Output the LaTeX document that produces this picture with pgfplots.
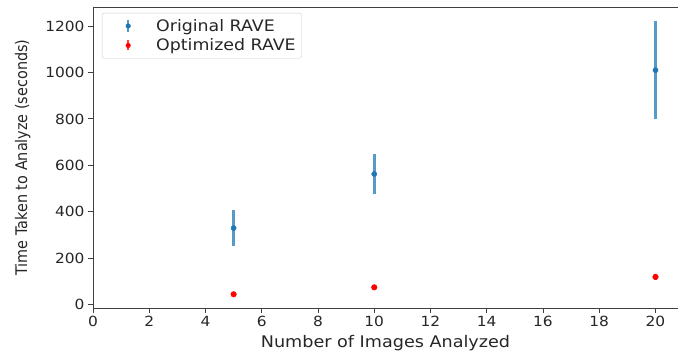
\documentclass[border=0pt]{standalone}
\usepackage{pgfplots}
\pgfplotsset{compat=1.18}
\usepackage{fontspec}
\setmainfont{DejaVu Sans}[FakeStretch=1.1]
\newfontfamily\labelfont{DejaVu Sans}[FakeStretch=0.9]
\definecolor{tabblue}{HTML}{1F77B4}
\definecolor{txt}{HTML}{262626}
\begin{document}
\begin{tikzpicture}
\begin{axis}[name=ax, scale only axis, width=585pt, height=301pt,
  xmin=0, xmax=20.8, ymin=-14, ymax=1282,
  xtick={0,2,...,20}, ytick={0,200,...,1200},
  tick align=outside, tick pos=left, major tick length=5pt,
  axis line style={black!75, line width=0.9pt},
  every tick/.style={black!75, line width=0.9pt},
  /pgf/number format/assume math mode=true,
  /pgf/number format/1000 sep={},
  ticklabel style={font=\fontsize{14}{16}\selectfont, text=txt},
  xlabel={Number of Images Analyzed},
  ylabel={\labelfont Time Taken to Analyze (seconds)},
  label style={font=\fontsize{16}{18}\selectfont, text=txt},
  xlabel style={yshift=-1pt},
  ylabel style={yshift=8pt},
  legend style={at={(0,1)}, anchor=north west, xshift=9pt, yshift=-6pt,
    draw=black!20, rounded corners=2pt, font=\fontsize{15.8}{18}\selectfont, text=txt,
    inner xsep=4pt, inner ysep=4pt, row sep=2pt},
  legend cell align=left,
]
\addplot[only marks, mark=*, mark size=2.6pt, color=tabblue,
  legend image code/.code={\path[draw=none,fill=none] (0pt,0pt) -- (48pt,0pt); \draw[line width=2.5pt, tabblue, opacity=.75] (22pt,-6pt) -- (22pt,6pt); \fill[tabblue] (22pt,0pt) circle[radius=2.3pt];},
  error bars/.cd, y dir=both, y explicit,
  error bar style={line width=3pt, tabblue, opacity=0.75}, error mark=none]
  coordinates {(5,330) +- (0,77) (10,563) +- (0,87) (20,1010) +- (0,212)};
\addlegendentry{Original RAVE}
\addplot[only marks, mark=*, mark size=2.8pt, color=red,
  legend image code/.code={\path[draw=none,fill=none] (0pt,0pt) -- (48pt,0pt); \draw[line width=2.5pt, red, opacity=.75] (22pt,-5pt) -- (22pt,5pt); \fill[red] (22pt,0pt) circle[radius=2.3pt];},
  error bars/.cd, y dir=both, y explicit,
  error bar style={line width=3pt, red, opacity=0.75}, error mark=none]
  coordinates {(5,45) +- (0,5) (10,75) +- (0,6) (20,120) +- (0,12)};
\addlegendentry{Optimized RAVE}
\end{axis}
\pgfresetboundingbox
\path[use as bounding box] ([xshift=-93pt,yshift=-45pt]ax.south west) rectangle ([yshift=7pt]ax.north east);
\end{tikzpicture}
\end{document}
